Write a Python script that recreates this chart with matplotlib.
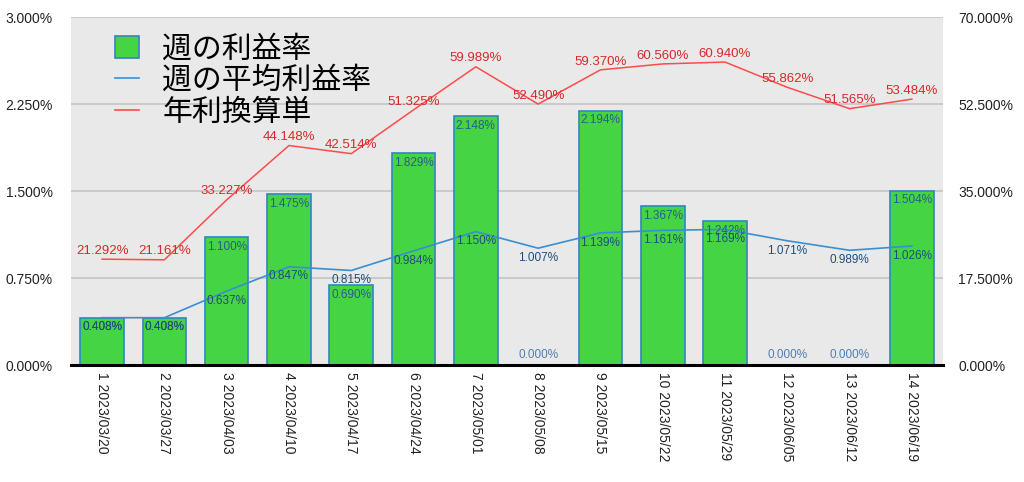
import matplotlib
matplotlib.use("Agg")
import matplotlib.pyplot as plt
from matplotlib.patches import Patch
from matplotlib.lines import Line2D
import numpy as np

# === データ ===
weeks = ["2023/03/20", "2023/03/27", "2023/04/03", "2023/04/10", "2023/04/17",
         "2023/04/24", "2023/05/01", "2023/05/08", "2023/05/15", "2023/05/22",
         "2023/05/29", "2023/06/05", "2023/06/12", "2023/06/19"]
weekly_rate = [0.408, 0.408, 1.100, 1.475, 0.690, 1.829, 2.148,
               0.000, 2.194, 1.367, 1.242, 0.000, 0.000, 1.504]
avg_rate = [0.408, 0.408, 0.637, 0.847, 0.815, 0.984, 1.150,
            1.007, 1.139, 1.161, 1.169, 1.071, 0.989, 1.026]
annual_rate = [21.292, 21.161, 33.227, 44.148, 42.514, 51.325, 59.989,
               52.490, 59.370, 60.560, 60.940, 55.862, 51.565, 53.484]
legend_labels = ["週の利益率", "週の平均利益率", "年利換算単"]

tick_labels = [f"{i + 1} {w}" for i, w in enumerate(weeks)]
x = np.arange(len(weeks))

plt.rcParams['font.family'] = ['Liberation Sans', 'Noto Sans CJK JP', 'DejaVu Sans']

bar_color = "#44d444"
edge_color = "#2e86c1"
blue = "#3a8fd0"
red = "#ff4a4a"

fig = plt.figure(figsize=(10.24, 4.82), dpi=100)
ax = fig.add_axes([0.0693, 0.2427, 0.8516, 0.722])
ax.set_facecolor("#e9e9e9")

ax.bar(x, weekly_rate, width=0.7, color=bar_color, edgecolor=edge_color,
       linewidth=1.2, zorder=2)
ax.plot(x, avg_rate, color=blue, linewidth=1.2, zorder=3)

ax.set_xlim(-0.5, len(weeks) - 0.5)
ax.set_ylim(0, 3.0)
ax.set_yticks(np.arange(0, 3.01, 0.75))
ax.set_yticklabels([f"{v:.3f}%" for v in np.arange(0, 3.01, 0.75)])
ax.grid(axis="y", color="#c4c4c4", linewidth=1.2, zorder=0)
ax.set_axisbelow(True)
for s in ["left", "right", "top"]:
    ax.spines[s].set_visible(False)
ax.spines["bottom"].set_linewidth(2.2)
ax.spines["bottom"].set_color("black")
ax.tick_params(axis="y", length=0, pad=13, labelsize=10, labelcolor="#222222")
ax.tick_params(axis="x", length=0, pad=5, labelsize=10, labelcolor="#222222")
ax.set_xticks(x)
ax.set_xticklabels(tick_labels, rotation=270, va="top", ha="center")

# 棒グラフのラベル
for xi, v in zip(x, weekly_rate):
    off = 7 if v == 0 else -7
    col = "#4f7fae" if v == 0 else "#2b5c8c"
    ax.annotate(f"{v:.3f}%", (xi, v), textcoords="offset points", xytext=(0, off),
                ha="center", va="center", fontsize=8.5, color=col, zorder=5)

# 平均のラベル
for xi, v in zip(x, avg_rate):
    ax.annotate(f"{v:.3f}%", (xi, v), textcoords="offset points", xytext=(0, -7),
                ha="center", va="center", fontsize=8.5, color="#1f4e79", zorder=5)

ax2 = ax.twinx()
ax2.plot(x, annual_rate, color=red, linewidth=1.1, zorder=3)
ax2.set_ylim(0, 70)
ax2.set_yticks(np.arange(0, 70.1, 17.5))
ax2.set_yticklabels([f"{v:.3f}%" for v in np.arange(0, 70.1, 17.5)])
ax2.tick_params(axis="y", length=0, pad=11, labelsize=10, labelcolor="#222222")
for s in ["left", "right", "top", "bottom"]:
    ax2.spines[s].set_visible(False)

for xi, v in zip(x, annual_rate):
    ax2.annotate(f"{v:.3f}%", (xi, v), textcoords="offset points", xytext=(0, 6),
                 ha="center", va="center", fontsize=9.5, color="#d42a2a", zorder=5)

handles = [Patch(facecolor=bar_color, edgecolor=edge_color, linewidth=1.2),
           Line2D([], [], color=blue, linewidth=1.2),
           Line2D([], [], color=red, linewidth=1.2)]
ax2.legend(handles, legend_labels, loc="upper left", bbox_to_anchor=(0.02, 1.03),
           frameon=False, handlelength=0.8, handleheight=0.8,
           handletextpad=0.77, labelspacing=0.02,
           prop={"family": ["Noto Sans CJK JP", "DejaVu Sans"], "size": 21.5})

fig.savefig("out.png", dpi=100)
